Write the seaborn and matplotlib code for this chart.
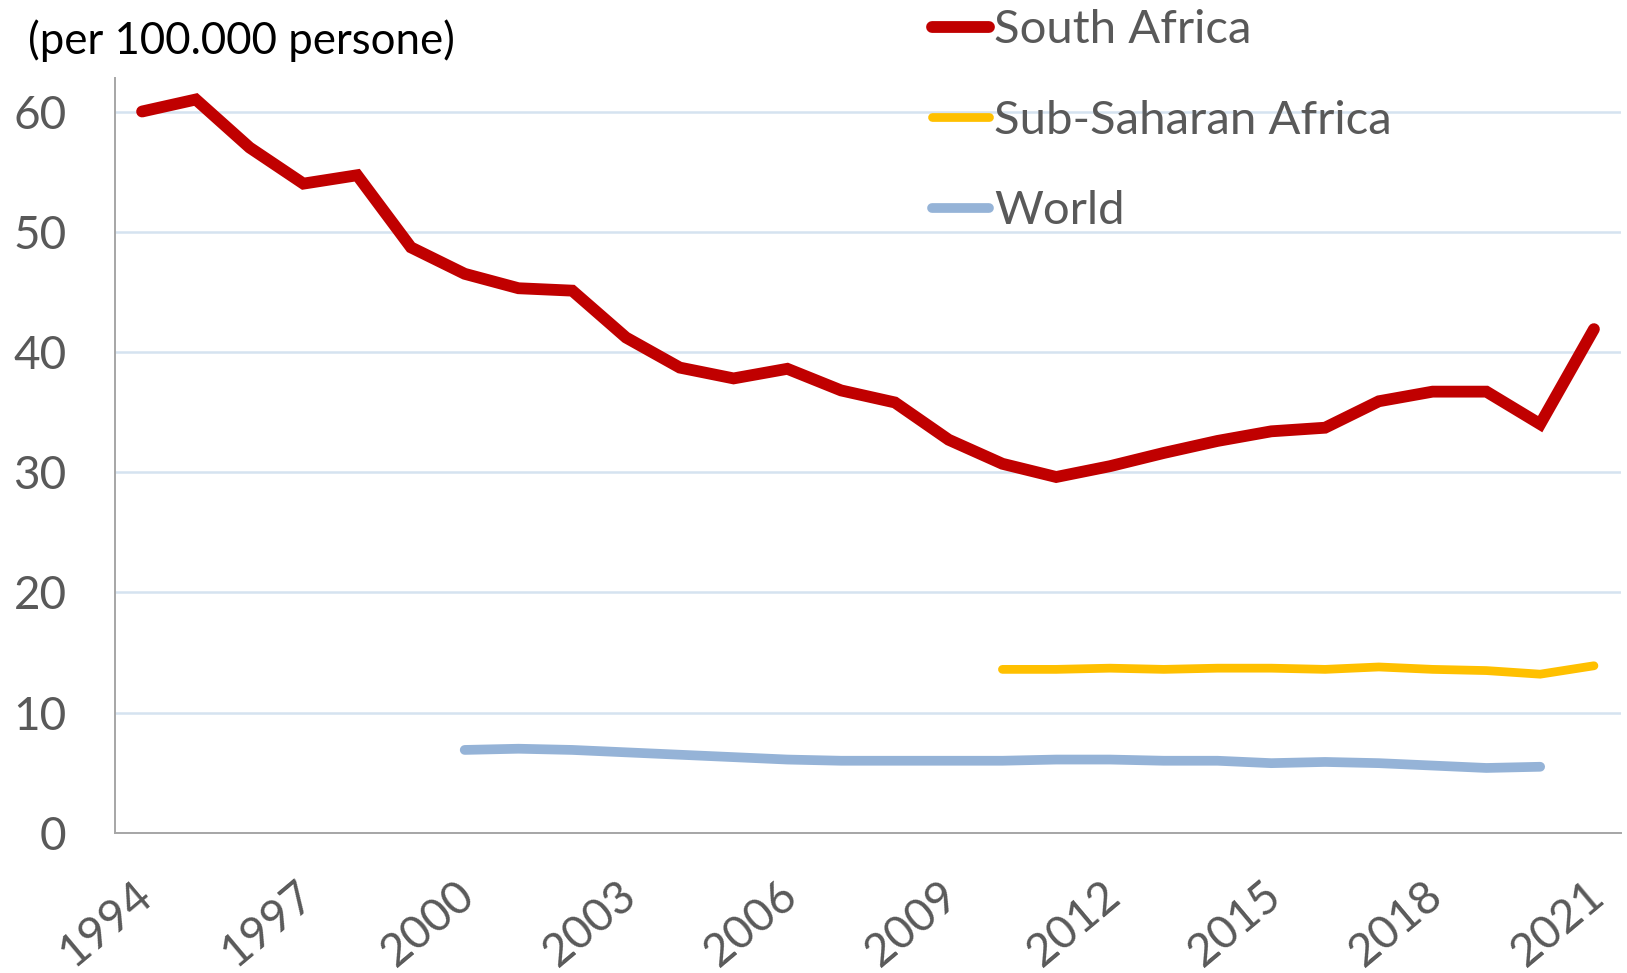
import numpy as np
import pandas as pd
import seaborn as sns
import matplotlib.pyplot as plt
import matplotlib.transforms as mtransforms
from matplotlib.ticker import FixedLocator

years = list(range(1994, 2022))

south_africa = [60.0, 61.0, 57.0, 54.0, 54.7, 48.7, 46.5, 45.3, 45.1, 41.2,
                38.7, 37.8, 38.6, 36.8, 35.8, 32.7, 30.7, 29.6, 30.5, 31.6,
                32.6, 33.4, 33.7, 35.9, 36.7, 36.7, 34.0, 41.9]

ssa_years = list(range(2010, 2022))
sub_saharan = [13.6, 13.6, 13.7, 13.6, 13.7, 13.7, 13.6, 13.8, 13.6, 13.5, 13.2, 13.9]

world_years = list(range(2000, 2021))
world = [6.9, 7.0, 6.9, 6.7, 6.5, 6.3, 6.1, 6.0, 6.0, 6.0, 6.0,
         6.1, 6.1, 6.0, 6.0, 5.8, 5.9, 5.8, 5.6, 5.4, 5.5]

series = ["South Africa", "Sub-Saharan Africa", "World"]
colors = {"South Africa": "#C00000", "Sub-Saharan Africa": "#FFC000", "World": "#95B3D7"}
widths = {"South Africa": 8.5, "Sub-Saharan Africa": 6.3, "World": 7.0}

df = pd.concat([
    pd.DataFrame({"year": years, "value": south_africa, "series": series[0]}),
    pd.DataFrame({"year": ssa_years, "value": sub_saharan, "series": series[1]}),
    pd.DataFrame({"year": world_years, "value": world, "series": series[2]}),
])

sns.set_style("white")
plt.rcParams["font.family"] = ["Lato", "DejaVu Sans"]

fig = plt.figure(figsize=(16.27, 9.73), dpi=100)
ax = fig.add_axes([0.0708, 0.144, 0.9254, 0.776])

# one call per series so each gets its own width
for name in series:
    sns.lineplot(data=df[df["series"] == name], x="year", y="value", ax=ax,
                 color=colors[name], linewidth=widths[name], label=name,
                 solid_capstyle="round", solid_joinstyle="miter")

grey = "#595959"
axis_col = "#A6A6A6"

ax.set_xlim(1993.5, 2021.5)
ax.set_ylim(0, 62.8)
ax.set_yticks([0, 10, 20, 30, 40, 50, 60])
ax.yaxis.grid(True, color="#D5E3F0", linewidth=1.8)
ax.set_axisbelow(True)

major = years[::3]
ax.set_xticks(major)
ax.set_xticklabels([str(y) for y in major], rotation=40, ha="right",
                   rotation_mode="anchor", fontsize=33, color=grey)
ax.xaxis.set_minor_locator(FixedLocator(np.arange(1994.5, 2021.5, 1.0)))
ax.tick_params(axis="x", which="major", length=0, pad=29)
ax.tick_params(axis="x", which="minor", direction="in", length=13,
               color=axis_col, width=1.4)
ax.tick_params(axis="y", direction="in", length=13, color=axis_col, width=1.4,
               labelsize=33, labelcolor=grey, pad=35)

# nudge the rotated year labels a little to the left (after tick_params,
# which resets label transforms)
shift = mtransforms.ScaledTranslation(-9 / 100, 0, fig.dpi_scale_trans)
for tick in ax.xaxis.get_major_ticks():
    tick.label1.set_transform(tick.label1.get_transform() + shift)

for s in ["top", "right"]:
    ax.spines[s].set_visible(False)
for s in ["left", "bottom"]:
    ax.spines[s].set_color(axis_col)
    ax.spines[s].set_linewidth(1.4)

ax.set_xlabel("")
ax.set_ylabel("")

fig.text(0.017, 0.958, "(per 100.000 persone)", fontsize=31.5, color="black",
         va="center", ha="left")

leg = ax.legend(loc="upper left", bbox_to_anchor=(0.5615, 1.010),
                bbox_transform=fig.transFigure, frameon=False,
                fontsize=34, handlelength=1.2, handletextpad=0.1,
                labelspacing=1.03, borderaxespad=0)
for t in leg.get_texts():
    t.set_color(grey)

fig.savefig("out.png", dpi=100)
